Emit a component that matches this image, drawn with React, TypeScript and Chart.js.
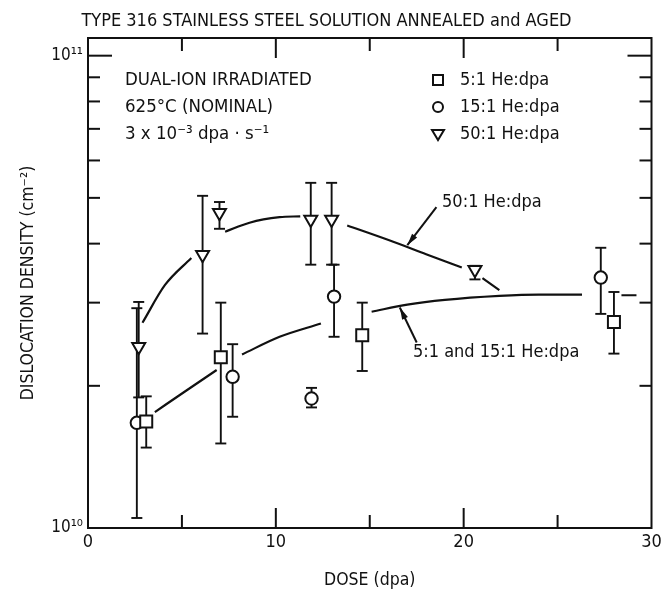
import React, { useEffect, useRef } from 'react';
import { Chart, registerables } from 'chart.js';

Chart.register(...registerables);

const FONT_FAMILY = '"DejaVu Sans Condensed", "Liberation Sans Narrow", "DejaVu Sans", sans-serif';
const INK = '#111111';

// ---------- text ----------
const chartTitle = 'TYPE 316 STAINLESS STEEL SOLUTION ANNEALED and AGED';
const xAxisTitle = 'DOSE (dpa)';
const yAxisTitle = 'DISLOCATION DENSITY (cm⁻²)';
const conditionLines = ['DUAL-ION IRRADIATED', '625°C (NOMINAL)', '3 x 10⁻³ dpa · s⁻¹'];
const seriesNames = ['5:1 He:dpa', '15:1 He:dpa', '50:1 He:dpa'];
const fitLabels = ['50:1 He:dpa', '5:1 and 15:1 He:dpa'];

// ---------- ticks ----------
const xTickValues = [0, 5, 10, 15, 20, 25, 30];
const xTickLabels = ['0', '', '10', '', '20', '', '30'];
const yTickValues = [1e10, 2e10, 3e10, 4e10, 5e10, 6e10, 7e10, 8e10, 9e10, 1e11];
const yTickLabels = ['10¹⁰', '', '', '', '', '', '', '', '', '10¹¹'];

// ---------- 5:1 He:dpa (squares) ----------
const dose5 = [3.1, 7.07, 14.6, 28.0];
const rho5 = [1.68e10, 2.3e10, 2.56e10, 2.73e10];
const rho5Lo = [1.48e10, 1.51e10, 2.15e10, 2.34e10];
const rho5Hi = [1.9e10, 3.0e10, 3.0e10, 3.16e10];

// ---------- 15:1 He:dpa (circles) ----------
const dose15 = [2.6, 7.7, 11.9, 13.1, 27.3];
const rho15 = [1.67e10, 2.09e10, 1.88e10, 3.09e10, 3.39e10];
const rho15Lo = [1.05e10, 1.72e10, 1.8e10, 2.54e10, 2.84e10];
const rho15Hi = [2.92e10, 2.45e10, 1.98e10, 3.61e10, 3.92e10];

// ---------- 50:1 He:dpa (down triangles) ----------
const dose50 = [2.7, 6.1, 7.0, 11.86, 12.97, 20.6];
const rho50 = [2.42e10, 3.79e10, 4.65e10, 4.5e10, 4.5e10, 3.52e10];
const rho50Lo = [1.89e10, 2.58e10, 4.3e10, 3.61e10, 3.61e10, 3.36e10];
const rho50Hi = [3.01e10, 5.05e10, 4.9e10, 5.38e10, 5.38e10, 3.59e10];

// ---------- hand-drawn trend curves (null = gap in the line) ----------
const fit50Dose = [2.9, 4.1, 5.5, 6.4, 7.3, 8.6, 10.2, 11.3, 12.5, 13.8, 16.0, 18.0, 19.9, 20.5, 21.0, 21.9];
const fit50Rho = [2.72e10, 3.27e10, 3.73e10, null, 4.24e10, 4.43e10, 4.55e10, 4.57e10, null, 4.37e10, 4.07e10, 3.8e10, 3.56e10, null, 3.38e10, 3.19e10];

const fit5Dose = [3.56, 5.2, 6.85, 7.5, 8.2, 10.2, 12.4, 13.5, 15.1, 17.0, 19.0, 21.9, 24.0, 26.3, 27.5, 28.4, 29.2];
const fit5Rho = [1.76e10, 1.95e10, 2.16e10, null, 2.33e10, 2.54e10, 2.71e10, null, 2.87e10, 2.97e10, 3.04e10, 3.1e10, 3.12e10, 3.12e10, null, 3.11e10, 3.11e10];

const pts = (xs: number[], ys: (number | null)[]) => xs.map((x, i) => ({ x, y: ys[i] }));

const errorGroups = [
  { dose: dose5, lo: rho5Lo, hi: rho5Hi },
  { dose: dose15, lo: rho15Lo, hi: rho15Hi },
  { dose: dose50, lo: rho50Lo, hi: rho50Hi },
];

function line(ctx: CanvasRenderingContext2D, x1: number, y1: number, x2: number, y2: number) {
  ctx.beginPath();
  ctx.moveTo(x1, y1);
  ctx.lineTo(x2, y2);
  ctx.stroke();
}

function arrow(ctx: CanvasRenderingContext2D, x1: number, y1: number, x2: number, y2: number) {
  ctx.lineWidth = 2;
  line(ctx, x1, y1, x2, y2);
  const a = Math.atan2(y2 - y1, x2 - x1);
  const L = 12, W = 3.2;
  ctx.beginPath();
  ctx.moveTo(x2, y2);
  ctx.lineTo(x2 - L * Math.cos(a) + W * Math.sin(a), y2 - L * Math.sin(a) - W * Math.cos(a));
  ctx.lineTo(x2 - L * Math.cos(a) - W * Math.sin(a), y2 - L * Math.sin(a) + W * Math.cos(a));
  ctx.closePath();
  ctx.fill();
}

function marker(ctx: CanvasRenderingContext2D, kind: string, x: number, y: number) {
  ctx.save();
  ctx.fillStyle = '#fff';
  ctx.strokeStyle = INK;
  ctx.lineWidth = 2;
  ctx.beginPath();
  if (kind === 'rect') {
    ctx.rect(x - 5, y - 5, 10, 10);
  } else if (kind === 'circle') {
    ctx.arc(x, y, 5, 0, Math.PI * 2);
  } else {
    ctx.moveTo(x - 6, y - 4);
    ctx.lineTo(x + 6, y - 4);
    ctx.lineTo(x, y + 6);
    ctx.closePath();
  }
  ctx.fill();
  ctx.stroke();
  ctx.restore();
}

const overlayPlugin = {
  id: 'overlay',
  beforeDatasetsDraw(chart: any) {
    const ctx = chart.ctx as CanvasRenderingContext2D;
    const xs = chart.scales.x;
    const ys = chart.scales.y;
    ctx.save();
    ctx.strokeStyle = INK;
    ctx.lineWidth = 1.9;
    errorGroups.forEach((g) => {
      g.dose.forEach((d, i) => {
        const px = xs.getPixelForValue(d);
        const pLo = ys.getPixelForValue(g.lo[i]);
        const pHi = ys.getPixelForValue(g.hi[i]);
        line(ctx, px, pLo, px, pHi);
        line(ctx, px - 5.5, pLo, px + 5.5, pLo);
        line(ctx, px - 5.5, pHi, px + 5.5, pHi);
      });
    });
    ctx.restore();
  },
  afterDraw(chart: any) {
    const ctx = chart.ctx as CanvasRenderingContext2D;
    const { left, right, top, bottom } = chart.chartArea;
    const xs = chart.scales.x;
    const ys = chart.scales.y;
    ctx.save();
    ctx.strokeStyle = INK;
    ctx.fillStyle = INK;
    ctx.lineWidth = 2;
    ctx.strokeRect(left, top, right - left, bottom - top);

    // inward ticks on all four sides
    xTickValues.forEach((v, i) => {
      if (v === xTickValues[0] || v === xTickValues[xTickValues.length - 1]) return;
      const px = xs.getPixelForValue(v);
      const len = xTickLabels[i] ? 20 : 13;
      line(ctx, px, bottom, px, bottom - len);
      line(ctx, px, top, px, top + len);
    });
    yTickValues.forEach((v, i) => {
      if (v === yTickValues[0]) return;
      const py = ys.getPixelForValue(v);
      const len = yTickLabels[i] ? 24 : 12;
      line(ctx, left, py, left + len, py);
      line(ctx, right, py, right - len, py);
    });

    // condition text
    ctx.font = `18.5px ${FONT_FAMILY}`;
    ctx.textBaseline = 'middle';
    ctx.textAlign = 'left';
    conditionLines.forEach((t, i) => ctx.fillText(t, left + 37, top + 42 + i * 27));

    // legend
    const kinds = ['rect', 'circle', 'triangle'];
    ctx.font = `18px ${FONT_FAMILY}`;
    seriesNames.forEach((t, i) => {
      const y = top + 42 + i * 27;
      marker(ctx, kinds[i], left + 350, y);
      ctx.fillStyle = INK;
      ctx.fillText(t, left + 372, y);
    });

    // curve labels with arrows
    ctx.fillStyle = INK;
    arrow(ctx, xs.getPixelForValue(18.55), ys.getPixelForValue(4.78e10), xs.getPixelForValue(17.0), ys.getPixelForValue(3.97e10));
    ctx.fillText(fitLabels[0], xs.getPixelForValue(18.85), ys.getPixelForValue(4.9e10));
    arrow(ctx, xs.getPixelForValue(17.5), ys.getPixelForValue(2.47e10), xs.getPixelForValue(16.6), ys.getPixelForValue(2.93e10));
    ctx.fillText(fitLabels[1], xs.getPixelForValue(17.3), ys.getPixelForValue(2.35e10));
    ctx.restore();
  },
};

export default function App() {
  const canvasRef = useRef<HTMLCanvasElement | null>(null);

  useEffect(() => {
    const canvas = canvasRef.current;
    if (!canvas) return;
    const markerBase = {
      showLine: false,
      borderColor: INK,
      backgroundColor: '#ffffff',
      borderWidth: 2,
    };
    const chart = new Chart(canvas, {
      type: 'scatter',
      data: {
        datasets: [
          { ...markerBase, label: seriesNames[0], data: pts(dose5, rho5), pointStyle: 'rect', pointRadius: 8.5 },
          { ...markerBase, label: seriesNames[1], data: pts(dose15, rho15), pointStyle: 'circle', pointRadius: 6.2 },
          { ...markerBase, label: seriesNames[2], data: pts(dose50, rho50), pointStyle: 'triangle', rotation: 180, pointRadius: 7.5 },
          {
            label: fitLabels[0], data: pts(fit50Dose, fit50Rho), showLine: true, spanGaps: false,
            borderColor: INK, borderWidth: 2.2, pointRadius: 0, cubicInterpolationMode: 'monotone',
          },
          {
            label: fitLabels[1], data: pts(fit5Dose, fit5Rho), showLine: true, spanGaps: false,
            borderColor: INK, borderWidth: 2.2, pointRadius: 0, cubicInterpolationMode: 'monotone',
          },
        ],
      } as any,
      options: {
        animation: false,
        responsive: false,
        devicePixelRatio: 1,
        layout: { padding: { left: 0, right: 9, top: 0, bottom: 0 } },
        plugins: {
          legend: { display: false },
          tooltip: { enabled: false },
          title: {
            display: true,
            text: chartTitle,
            color: INK,
            font: { family: FONT_FAMILY, size: 18, weight: 'normal' },
            padding: { top: 11, bottom: 5.4 },
          },
        },
        scales: {
          x: {
            type: 'linear',
            min: 0,
            max: 30,
            afterBuildTicks: (s: any) => { s.ticks = xTickValues.map((v) => ({ value: v })); },
            afterFit: (s: any) => { s.height = 66; s.paddingLeft = 0; s.paddingRight = 0; },
            grid: { display: false, drawTicks: false },
            border: { display: false },
            ticks: {
              autoSkip: false,
              maxRotation: 0,
              padding: 4,
              color: INK,
              font: { family: FONT_FAMILY, size: 18 },
              callback: (v: any) => xTickLabels[xTickValues.indexOf(Number(v))] ?? '',
            },
            title: {
              display: true,
              text: xAxisTitle,
              color: INK,
              font: { family: FONT_FAMILY, size: 17.5 },
              padding: { top: 0, bottom: 3.5 },
            },
          },
          y: {
            type: 'logarithmic',
            min: 1e10,
            max: 1.09e11,
            afterBuildTicks: (s: any) => { s.ticks = yTickValues.map((v) => ({ value: v })); },
            afterFit: (s: any) => { s.width = 88; s.paddingTop = 0; s.paddingBottom = 0; },
            grid: { display: false, drawTicks: false },
            border: { display: false },
            ticks: {
              autoSkip: false,
              padding: 5,
              color: INK,
              font: { family: FONT_FAMILY, size: 17 },
              callback: (v: any) => {
                const i = yTickValues.findIndex((t) => Math.abs(t - Number(v)) < 1e6);
                return i >= 0 ? yTickLabels[i] : '';
              },
            },
            title: {
              display: true,
              text: yAxisTitle,
              color: INK,
              font: { family: FONT_FAMILY, size: 17.5 },
              padding: { top: 17.5, bottom: 0 },
            },
          },
        },
      } as any,
      plugins: [overlayPlugin],
    });
    return () => chart.destroy();
  }, []);

  return (
    <div style={{ position: 'fixed', left: 0, top: 0, width: 662, height: 594, background: '#ffffff' }}>
      <canvas ref={canvasRef} width={662} height={594} />
    </div>
  );
}
